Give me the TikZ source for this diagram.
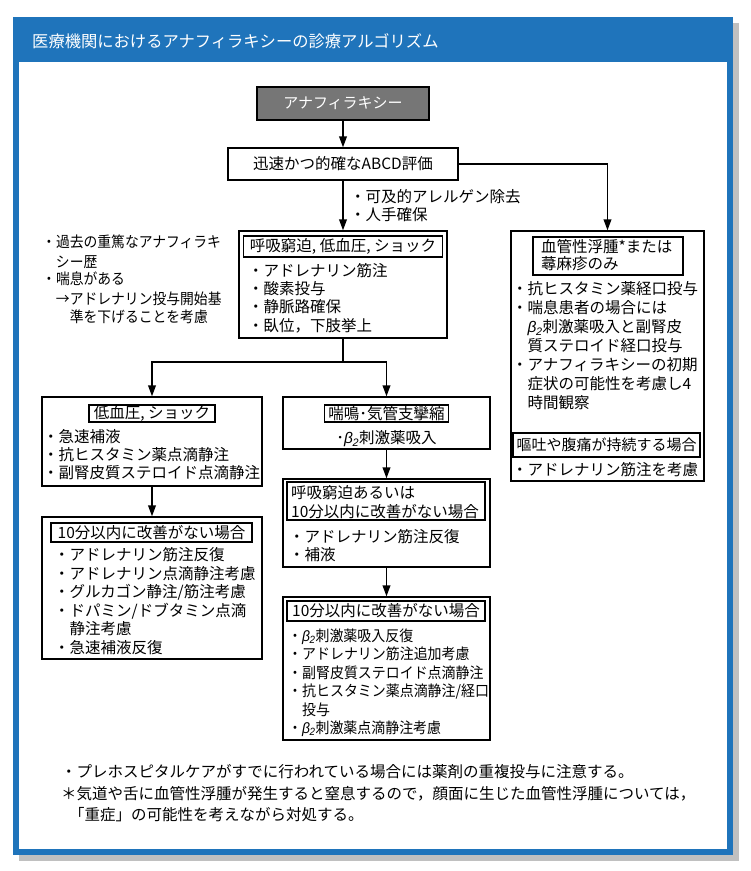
\documentclass[tikz,border=0pt]{standalone}
\usepackage{fontspec}
\setmainfont{Noto Sans CJK JP}
\newfontfamily\libsans{Liberation Sans}
\usepackage{graphicx}
\usetikzlibrary{arrows.meta}
\definecolor{frameblue}{RGB}{31,116,187}
\definecolor{shadowgray}{RGB}{192,192,192}
\definecolor{boxgray}{RGB}{118,118,118}
\newcommand\nar[1]{\scalebox{0.92}[1]{#1}}
\newcommand\narb[1]{\scalebox{0.93}[1]{#1}}
\newcommand\bt{{\libsans\itshape β\kern-0.5pt\textsubscript{2}}}
\begin{document}
\begin{tikzpicture}[x=1pt,y=-1pt,
  bx/.style={draw=black, line width=1.1pt, inner sep=0pt, fill=white},
  txt/.style={inner sep=0pt, anchor=base west, font=\fontsize{15.5}{18}\selectfont},
  ttl/.style={font=\fontsize{15.5}{18}\selectfont},
  body/.style={font=\fontsize{15}{18}\selectfont},
  arr/.style={line width=1.8pt, -{Triangle[length=11pt,width=7.5pt]}},
  conn/.style={line width=1.8pt}]
\useasboundingbox (0,0) rectangle (751,871);
% frame
\fill[shadowgray] (19,23) rectangle (739,861);
\fill[frameblue] (13,17) rectangle (733,855);
\fill[white] (19,62) rectangle (727,849);
\node[txt, text=white, font=\fontsize{16.3}{20}\selectfont] (title) at (32,47.6) {医療機関におけるアナフィラキシーの診療アルゴリズム};

% boxes
\node[bx, fill=boxgray, minimum width=172, minimum height=33, text=white, body] (ana) at (343,103.5) {アナフィラキシー};
\node[bx, minimum width=230, minimum height=32, ttl] (abcd) at (343,164) {迅速かつ的確なABCD評価};
\node[bx, minimum width=208, minimum height=107] (kokyu) at (343,284.5) {};
\node[bx, minimum width=199, minimum height=21, ttl] (kokyuT) at (343,246.5) {呼吸窮迫, 低血圧, ショック};
\node[bx, minimum width=193, minimum height=250] (kekkan) at (607.5,356) {};
\node[bx, minimum width=150, minimum height=38] (kekkanT) at (608,256) {};
\node[bx, minimum width=187, minimum height=24, body] (kenbiT) at (606.5,445) {嘔吐や腹痛が持続する場合};
\node[bx, minimum width=220, minimum height=89] (teiketsu) at (152,441.5) {};
\node[bx, minimum width=126, minimum height=17, ttl] (teiketsuT) at (152,413.5) {低血圧, ショック};
\node[bx, minimum width=207, minimum height=52] (zenmei) at (386.5,423) {};
\node[bx, minimum width=124, minimum height=17, ttl] (zenmeiT) at (386.5,413.5) {喘鳴･気管支攣縮};
\node[bx, minimum width=207, minimum height=88] (kokyu2) at (386.5,523) {};
\node[bx, minimum width=198, minimum height=38] (kokyu2T) at (386,501) {};
\node[bx, minimum width=220, minimum height=142] (kaizen1) at (152,588) {};
\node[bx, minimum width=201, minimum height=19, ttl] (kaizen1T) at (151.5,532.5) {10分以内に改善がない場合};
\node[bx, minimum width=207, minimum height=143] (kaizen2) at (386.5,668.5) {};
\node[bx, minimum width=198, minimum height=20, ttl] (kaizen2T) at (386,611) {10分以内に改善がない場合};

% connectors
\draw[arr] (ana) -- (abcd);
\draw[arr] (abcd) -- (kokyu);
\draw[arr] (abcd.east) -| (kekkan.north);
\coordinate (j1) at (343,362);
\draw[conn] (kokyu.south) -- (j1);
\draw[arr] (j1) -| (teiketsu.north);
\draw[arr] (j1) -| (zenmei.north);
\draw[arr] (teiketsu) -- (kaizen1);
\draw[arr] (zenmei) -- (kokyu2);
\draw[arr] (kokyu2) -- (kaizen2);

% notes beside the first arrow
\node[txt] (n1) at (350,202.5) {・可及的アレルゲン除去};
\node[txt] (n2) at (350,220.5) {・人手確保};

% left notes
\node[txt, body] (l1) at (42,247.2) {\nar{・過去の重篤なアナフィラキ}};
\node[txt, body] (l2) at (55.8,267.2) {\nar{シー歴}};
\node[txt, body] (l3) at (42,284.8) {\nar{・喘息がある}};
\node[txt, body] (l4) at (55.8,304.5) {\nar{→アドレナリン投与開始基}};
\node[txt, body] (l5) at (69.6,322.2) {\nar{準を下げることを考慮}};

% kokyu bullets
\node[txt] (k1) at (248,276.5) {・アドレナリン筋注};
\node[txt] (k2) at (248,294.7) {・酸素投与};
\node[txt] (k3) at (248,312.9) {・静脈路確保};
\node[txt] (k4) at (248,331.1) {・臥位，下肢挙上};

% kekkan
\node[txt, ttl] (e1) at (541,252.7) {血管性浮腫*または};
\node[txt, ttl] (e2) at (541,269.7) {蕁麻疹のみ};
\node[txt] (e3) at (512,294.5) {・抗ヒスタミン薬経口投与};
\node[txt] (e4) at (512,313.5) {・喘息患者の場合には};
\node[txt] (e5) at (527.5,332.5) {\bt 刺激薬吸入と副腎皮};
\node[txt] (e6) at (527.5,351.5) {質ステロイド経口投与};
\node[txt] (e7) at (512,370.5) {・アナフィラキシーの初期};
\node[txt] (e8) at (527.5,389.5) {症状の可能性を考慮し4};
\node[txt] (e9) at (527.5,408.5) {時間観察};
\node[txt] (e10) at (512,475.5) {・アドレナリン筋注を考慮};

% teiketsu
\node[txt] (t1) at (43,442.5) {・急速補液};
\node[txt] (t2) at (43,460.5) {・抗ヒスタミン薬点滴静注};
\node[txt] (t3) at (43,478.5) {・副腎皮質ステロイド点滴静注};

% zenmei
\node[inner sep=0pt, anchor=base, font=\fontsize{15.5}{18}\selectfont] (z1) at (386.5,443.5) {･\bt 刺激薬吸入};

% kokyu2
\node[txt, ttl] (r1) at (291,498.5) {呼吸窮迫あるいは};
\node[txt, ttl] (r2) at (291,517.5) {10分以内に改善がない場合};
\node[txt] (r3) at (289,542.5) {・アドレナリン筋注反復};
\node[txt] (r4) at (289,560.5) {・補液};

% kaizen1
\node[txt] (a1) at (54,560.5) {・アドレナリン筋注反復};
\node[txt] (a2) at (54,579) {・アドレナリン点滴静注考慮};
\node[txt] (a3) at (54,597.5) {・グルカゴン静注/筋注考慮};
\node[txt] (a4) at (54,616) {・ドパミン/ドブタミン点滴};
\node[txt] (a5) at (69.5,634.5) {静注考慮};
\node[txt] (a6) at (54,653) {・急速補液反復};

% kaizen2
\node[txt, body] (b1) at (288,641) {\narb{・\bt 刺激薬吸入反復}};
\node[txt, body] (b2) at (288,659.5) {\narb{・アドレナリン筋注追加考慮}};
\node[txt, body] (b3) at (288,678) {\narb{・副腎皮質ステロイド点滴静注}};
\node[txt, body] (b4) at (288,696.5) {\narb{・抗ヒスタミン薬点滴静注/経口}};
\node[txt, body] (b5) at (302,715) {\narb{投与}};
\node[txt, body] (b6) at (288,733.5) {\narb{・\bt 刺激薬点滴静注考慮}};

% footnotes
\node[txt] (f1) at (61,777.5) {・プレホスピタルケアがすでに行われている場合には薬剤の重複投与に注意する。};
\node[txt] (f2) at (61,799.5) {＊気道や舌に血管性浮腫が発生すると窒息するので，顔面に生じた血管性浮腫については，};
\node[txt] (f3) at (69,820.5) {「重症」の可能性を考えながら対処する。};
\end{tikzpicture}
\end{document}
